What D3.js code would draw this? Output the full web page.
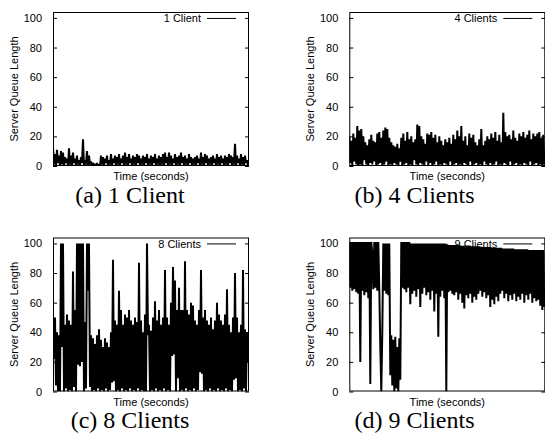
<!DOCTYPE html>
<html><head><meta charset="utf-8">
<script src="https://cdn.jsdelivr.net/npm/d3@7"></script>
<style>body{margin:0;background:#fff;overflow:hidden}</style>
</head><body>
<svg id="chart" width="545" height="447"></svg>
<script>
// ---- data ----
const yTicks = [0, 20, 40, 60, 80, 100];
const legendLabels = ["1 Client", "4 Clients", "8 Clients", "9 Clients"];
const captions = ["(a) 1 Client", "(b) 4 Clients", "(c) 8 Clients", "(d) 9 Clients"];
const xLabel = "Time (seconds)";
const yLabel = "Server Queue Length";

const queue1 = [
 13,1,8,0,11,2,7,0,10,1, 9,0,6,2,5,0,12,1,7,0, 9,2,5,0,7,1,4,0,6,2, 18,0,4,1,10,0,7,1,3,0,
 2,1,1,0,2,0,1,0,7,1, 6,0,5,2,7,0,4,1,8,0, 5,2,7,0,6,1,8,0,5,2, 7,0,9,1,6,0,8,2,5,0,
 7,1,6,0,8,2,7,0,5,1, 7,0,6,2,8,0,5,1,7,0, 6,2,8,0,5,1,7,0,6,1, 8,0,9,2,6,0,9,1,7,0,
 5,2,8,0,6,1,7,0,9,2, 6,0,7,1,5,0,8,2,6,0, 5,1,6,0,7,2,5,0,9,1, 6,0,8,2,7,0,5,1,6,0,
 7,2,5,0,8,1,6,0,7,2, 5,0,7,1,6,0,8,2,7,0, 6,1,15,0,7,2,5,0,8,1, 6,0,7,2,4,0
];
const queue4 = [
 20,2,17,0,22,3,19,1,27,0, 24,1,25,0,20,4,16,1,14,0, 18,2,21,1,17,3,16,0,22,1, 23,2,19,0,24,1,26,3,25,0,
 19,1,16,0,14,2,13,1,15,0, 12,3,19,0,22,1,17,2,23,0, 18,1,20,0,16,4,18,1,28,0, 27,2,20,1,18,0,15,3,22,0,
 21,2,23,0,19,1,21,3,16,0, 20,1,17,0,14,2,18,1,16,0, 19,3,15,0,21,1,18,2,24,0, 20,1,27,0,17,2,20,1,14,0,
 22,3,19,0,21,1,16,2,14,0, 18,1,25,0,14,3,17,1,20,0, 18,2,22,0,19,1,23,3,17,0, 21,1,16,0,36,2,23,1,20,0,
 21,3,18,0,24,1,19,2,17,0, 22,1,20,0,23,2,19,1,21,0, 24,3,18,0,22,1,20,2,22,0, 23,1,19,0,21,1
];
const queue8 = [
 52,22,50,4,40,0,38,0,100,30, 100,0,45,2,52,0,48,1,45,0, 81,3,55,0,100,18,100,17,100,20,
 100,0,47,2,100,68,100,3,38,0, 36,1,32,0,38,2,42,0,35,1, 30,0,36,2,33,0,30,1,40,6,
 89,7,48,0,45,1,68,0,55,2, 45,0,52,1,50,0,55,2,48,0, 45,1,50,0,47,2,87,0,48,1,
 40,0,52,0,100,38,45,0,41,1, 50,0,61,2,48,0,55,1,45,0, 50,2,82,0,50,1,45,0,60,24,
 84,25,75,0,55,9,70,0,55,1, 55,0,88,2,55,0,52,1,60,0, 58,2,48,0,45,1,55,13,82,12,
 50,0,55,1,48,0,45,2,50,0, 42,1,48,0,60,2,52,0,48,1, 45,0,52,2,69,0,45,1,40,0,
 50,8,80,9,50,0,40,1,45,0, 82,2,42,0,40,20
];
const queue9 = [
 101,70,101,68,101,69,101,67,101,66, 101,20,101,68,101,65,101,67,101,63, 101,5,101,93,69,101,70,101,68,101,
 69,30,0,40,100,68,100,66,100,65, 100,11,38,4,35,0,37,2,30,0, 36,8,101,70,101,69,101,67,101,70,
 101,59,100,66,100,68,100,64,100,69, 100,57,100,66,100,70,100,65,100,67, 100,62,100,68,100,54,100,66,100,37,
 100,64,100,68,100,63,100,0,99.5,67, 99,68,99,66,99,65,99,67,99,62, 99,66,98.5,60,98.5,56,98.5,65,98.5,63,
 98.5,66,98,60,98,64,98,62,98,66, 98,68,97.5,64,97.5,67,97.5,63,97.5,65, 97.5,57,97,62,97,59,97,64,97,61,
 97,66,97,68,96.5,63,96.5,66,96.5,61, 96.5,65,96.5,62,96.5,66,96,61,96,64, 96,62,96,66,96,60,96,65,96,62,
 95.5,66,95.5,60,95.5,63,95.5,61,95.5,62, 95.5,58,95.5,55,95.5,57
];
const series = [queue1, queue4, queue8, queue9];

// ---- layout ----
const W = 196, H = 154;
const frames = [
  {x: 53, y: 12}, {x: 349.3, y: 12},
  {x: 53, y: 237.5}, {x: 349.3, y: 237.5}
];
const captionPos = [{x: 130, y: 203}, {x: 414.5, y: 203}, {x: 130, y: 428}, {x: 414.5, y: 428}];

const svg = d3.select("#chart");
const sans = "'Liberation Sans', Arial, Helvetica, sans-serif";
const serif = "'Liberation Serif', 'Times New Roman', Times, serif";

frames.forEach((f, k) => {
  const data = series[k];
  const g = svg.append("g");
  const x = d3.scaleLinear().domain([0, data.length - 1]).range([f.x, f.x + data.length - 1]);
  const y = d3.scaleLinear().domain([0, 104]).range([f.y + H, f.y]);

  const clipId = "clip" + k;
  svg.append("clipPath").attr("id", clipId).append("rect")
    .attr("x", f.x).attr("y", f.y).attr("width", W).attr("height", H);

  // data line
  g.append("path")
    .datum(data)
    .attr("clip-path", `url(#${clipId})`)
    .attr("fill", "none")
    .attr("stroke", "#000")
    .attr("stroke-width", 2)
    .attr("stroke-linejoin", "bevel")
    .attr("d", d3.line().x((d, i) => x(i)).y(d => y(d)));

  // left axis (inward ticks) with labels
  const left = d3.axisLeft(y).tickValues(yTicks).tickSizeInner(-4).tickSizeOuter(0).tickPadding(11);
  const la = g.append("g").attr("transform", `translate(${f.x},0)`).call(left);
  la.select(".domain").remove();
  la.selectAll("text").attr("font-family", sans).attr("font-size", 11).attr("fill", "#000");
  la.selectAll("line").attr("stroke", "#000");
  // right mirrored ticks
  const right = d3.axisRight(y).tickValues(yTicks).tickSizeInner(-4).tickSizeOuter(0).tickFormat("");
  const ra = g.append("g").attr("transform", `translate(${f.x + W},0)`).call(right);
  ra.select(".domain").remove();
  ra.selectAll("line").attr("stroke", "#000");

  // frame
  g.append("rect")
    .attr("x", f.x + 0.5).attr("y", f.y + 0.5)
    .attr("width", W - 1).attr("height", H - 1)
    .attr("fill", "none").attr("stroke", "#000").attr("stroke-width", 1);

  // axis titles
  g.append("text")
    .attr("x", f.x + W / 2).attr("y", f.y + H + 14)
    .attr("text-anchor", "middle").attr("font-family", sans).attr("font-size", 11)
    .text(xLabel);
  g.append("text")
    .attr("transform", `translate(${f.x - 35},${f.y + H / 2}) rotate(-90)`)
    .attr("text-anchor", "middle").attr("font-family", sans).attr("font-size", 11)
    .text(yLabel);

  // legend
  const ly = y(100) + 0.5;
  g.append("text")
    .attr("x", f.x + W - 48).attr("y", ly + 4)
    .attr("text-anchor", "end").attr("font-family", sans).attr("font-size", 11)
    .text(legendLabels[k]);
  g.append("line")
    .attr("x1", f.x + W - 42).attr("x2", f.x + W - 13)
    .attr("y1", ly).attr("y2", ly)
    .attr("stroke", "#000").attr("stroke-width", 1);

  // caption
  svg.append("text")
    .attr("x", captionPos[k].x).attr("y", captionPos[k].y)
    .attr("text-anchor", "middle").attr("font-family", serif).attr("font-size", 24)
    .text(captions[k]);
});
</script>
</body></html>
